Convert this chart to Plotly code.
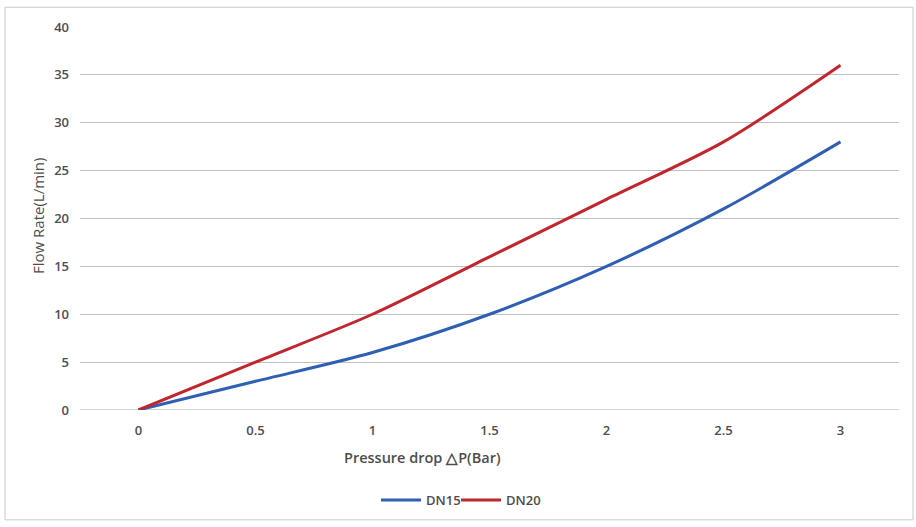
import plotly.graph_objects as go

pressure = [0, 0.5, 1, 1.5, 2, 2.5, 3]
x_tick_labels = ["0", "0.5", "1", "1.5", "2", "2.5", "3"]
dn15 = [0, 3, 6, 10, 15, 21, 28]
dn20 = [0, 5, 10, 16, 22, 28, 36]
y_ticks = [0, 5, 10, 15, 20, 25, 30, 35, 40]

FONT = "Open Sans"
TXT = "#4D4D4D"

# plot area in pixels: x 80..899, y 27..414
PL, PW, PT, PB = 80, 819, 27, 414
PH = PB - PT


def px(x):
    return (x - PL) / PW


def py(y):
    return (PB - y) / PH


fig = go.Figure()
fig.add_trace(go.Scatter(x=pressure, y=dn15, name="DN15", mode="lines", legend="legend",
                         line=dict(color="#2E5FB3", width=3, shape="spline", smoothing=0.8)))
fig.add_trace(go.Scatter(x=pressure, y=dn20, name="DN20", mode="lines", legend="legend2",
                         line=dict(color="#C0262D", width=3, shape="spline", smoothing=0.8)))

tick_font = dict(family=FONT, size=13, color=TXT, weight=600)
leg_font = dict(family=FONT, size=13, color=TXT, weight=600)

fig.update_layout(
    width=916, height=527,
    margin=dict(l=PL, r=916 - PL - PW, t=PT, b=527 - PB),
    paper_bgcolor="white", plot_bgcolor="white",
    font=dict(family=FONT, size=12, color=TXT),
    showlegend=True,
    legend=dict(orientation="h", x=px(376), xanchor="left", y=py(505), yanchor="middle",
                font=leg_font, itemwidth=40, bgcolor="rgba(0,0,0,0)"),
    legend2=dict(orientation="h", x=px(456), xanchor="left", y=py(505), yanchor="middle",
                 font=leg_font, itemwidth=40, bgcolor="rgba(0,0,0,0)"),
    xaxis=dict(range=[-0.25, 3.25], tickvals=pressure, ticktext=x_tick_labels,
               showgrid=False, zeroline=False, showline=False, ticks="",
               ticklabelstandoff=11, tickfont=tick_font),
    yaxis=dict(range=[0, 40], tickvals=y_ticks, showgrid=True, gridcolor="#C0C0C0",
               gridwidth=1, zeroline=False, showline=False, ticks="",
               ticklabelstandoff=10, tickfont=tick_font),
    annotations=[
        dict(text="Pressure drop △P(Bar)", xref="paper", yref="paper",
             x=px(422), y=py(462), xanchor="center", yanchor="middle",
             showarrow=False, font=dict(family=FONT, size=14.5, color=TXT, weight=600)),
        dict(text="Flow Rate(L/min)", xref="paper", yref="paper",
             x=px(38), y=py(218), xanchor="center", yanchor="middle",
             textangle=-90, showarrow=False, font=dict(family=FONT, size=15, color=TXT)),
    ],
    shapes=[
        dict(type="rect", xref="paper", yref="paper",
             x0=px(5), x1=px(913), y0=py(525), y1=py(7),
             line=dict(color="#C8C8C8", width=1), fillcolor="rgba(0,0,0,0)", layer="below"),
        dict(type="line", xref="paper", yref="y", x0=0, x1=1, y0=0, y1=0,
             line=dict(color="#A8A8A8", width=1), layer="below"),
    ],
)

post = (
    "document.documentElement.style.margin='0';"
    "document.documentElement.style.overflow='hidden';"
    "document.body.style.margin='0';"
    "document.body.style.overflow='hidden';"
    "document.body.style.height='527px';"
    "var d=document.getElementById('{plot_id}');"
    "d.style.display='block';"
    "d.parentNode.style.height='527px';"
    "d.parentNode.style.overflow='hidden';"
)
fig.write_html("out.html", config={"displayModeBar": False}, post_script=post)
